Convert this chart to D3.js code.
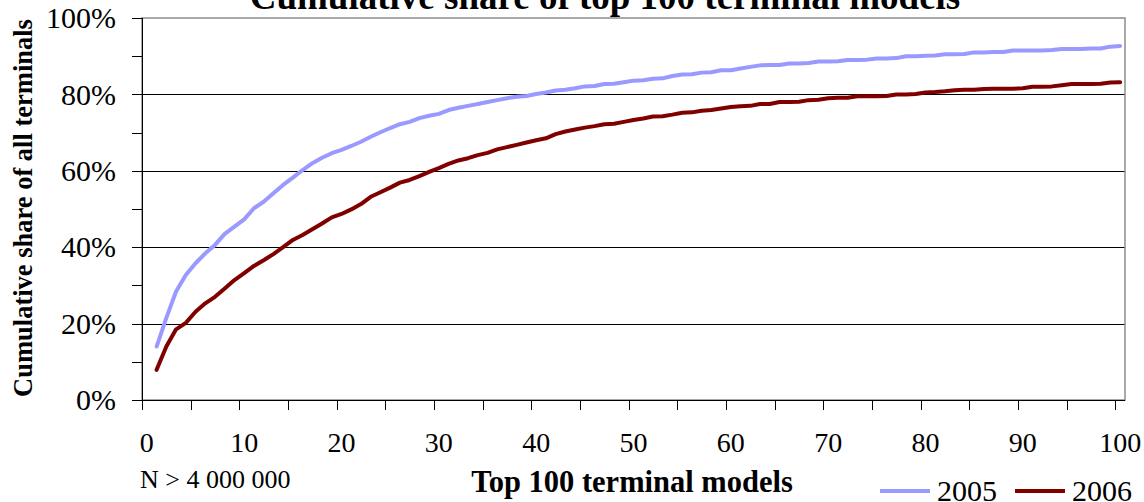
<!DOCTYPE html>
<html>
<head>
<meta charset="utf-8">
<script src="https://cdn.jsdelivr.net/npm/d3@7"></script>
<style>
	body { margin: 0; background: #fff; }
	svg { display: block; }
	svg text { font-family: "Liberation Serif", "Times New Roman", serif; fill: #000; }
</style>
</head>
<body>
<div id="chart"></div>
<script>
// rank of the terminal model, 1..100
var ranks = d3.range(1, 101);

var share2005 = [
	14.0, 21.5, 28.4, 32.7, 35.8, 38.4, 40.6, 43.5, 45.4, 47.3,
	50.2, 51.9, 54.1, 56.3, 58.2, 60.2, 62.0, 63.4, 64.6, 65.5,
	66.5, 67.6, 68.9, 70.1, 71.2, 72.2, 72.8, 73.8, 74.4, 74.9,
	75.9, 76.5, 77.0, 77.5, 78.0, 78.5, 79.0, 79.4, 79.6, 80.1,
	80.5, 81.0, 81.2, 81.6, 82.1, 82.2, 82.7, 82.8, 83.2, 83.6,
	83.7, 84.1, 84.2, 84.8, 85.2, 85.3, 85.7, 85.8, 86.3, 86.3,
	86.8, 87.2, 87.6, 87.7, 87.7, 88.1, 88.1, 88.2, 88.6, 88.6,
	88.7, 89.0, 89.0, 89.1, 89.4, 89.4, 89.5, 90.0, 90.0, 90.1,
	90.2, 90.5, 90.5, 90.6, 91.0, 91.0, 91.1, 91.1, 91.5, 91.5,
	91.5, 91.5, 91.6, 91.9, 91.9, 91.9, 92.0, 92.0, 92.5, 92.7
];

var share2006 = [
	7.9, 14.0, 18.5, 20.2, 23.1, 25.3, 27.0, 29.2, 31.4, 33.2,
	35.1, 36.6, 38.2, 40.0, 41.9, 43.2, 44.7, 46.2, 47.8, 48.7,
	49.9, 51.3, 53.2, 54.4, 55.6, 56.9, 57.6, 58.6, 59.7, 60.7,
	61.8, 62.7, 63.3, 64.1, 64.7, 65.6, 66.2, 66.8, 67.4, 68.0,
	68.5, 69.6, 70.3, 70.8, 71.3, 71.7, 72.2, 72.3, 72.8, 73.3,
	73.7, 74.2, 74.3, 74.7, 75.2, 75.3, 75.7, 75.9, 76.3, 76.7,
	76.9, 77.0, 77.5, 77.5, 78.0, 78.0, 78.1, 78.5, 78.6, 79.0,
	79.1, 79.1, 79.5, 79.5, 79.5, 79.6, 80.0, 80.0, 80.1, 80.5,
	80.6, 80.8, 81.1, 81.2, 81.2, 81.4, 81.5, 81.5, 81.5, 81.6,
	82.0, 82.0, 82.1, 82.4, 82.7, 82.7, 82.7, 82.8, 83.1, 83.2
];

var xLabels = [0, 10, 20, 30, 40, 50, 60, 70, 80, 90, 100];
var yTicks = [0, 10, 20, 30, 40, 50, 60, 70, 80, 90, 100];
var yLabels = [0, 20, 40, 60, 80, 100];
var seriesNames = ["2005", "2006"];
var seriesColors = ["#9999ff", "#800000"];

(function() {
	var W = 1144, H = 502;
	var pLeft = 142, pRight = 1125, pTop = 18, pBottom = 400;

	var svg = d3.select("#chart").append("svg").attr("width", W).attr("height", H);

	// category axis: 101 slots (0..100), each point sits in the middle of its slot
	var x = d3.scaleLinear().domain([0, 101]).range([pLeft, pRight]);
	var y = d3.scaleLinear().domain([0, 100]).range([pBottom, pTop]);

	// gridlines
	svg.append("g").selectAll("line").data(yLabels.filter(function(d) { return d > 0 && d < 100; }))
		.enter().append("line")
		.attr("x1", pLeft).attr("x2", pRight)
		.attr("y1", function(d) { return Math.round(y(d)) + 0.5; })
		.attr("y2", function(d) { return Math.round(y(d)) + 0.5; })
		.attr("stroke", "#000").attr("stroke-width", 1);

	// plot border (top / right gray)
	svg.append("rect").attr("x", pLeft).attr("y", pTop).attr("width", pRight - pLeft).attr("height", pBottom - pTop)
		.attr("fill", "none").attr("stroke", "#8c8c8c").attr("stroke-width", 1.5);

	// y axis
	var yAxis = d3.axisLeft(y).tickValues(yTicks).tickSize(10).tickPadding(16)
		.tickFormat(function(d) { return d % 20 === 0 ? d + "%" : ""; });
	var gy = svg.append("g").attr("transform", "translate(" + pLeft + ",0)").call(yAxis);
	gy.selectAll("text").attr("font-size", 30).attr("font-family", null);
	gy.selectAll("line, path").attr("stroke", "#000").attr("shape-rendering", "crispEdges");
	gy.select(".domain").attr("d", "M0," + pBottom + "V" + pTop);

	// x axis: ticks every 5 slots, labels every 10 in slot centres
	var xAxis = d3.axisBottom(x).tickValues(d3.range(0, 101, 5)).tickSize(10).tickFormat("");
	var gx = svg.append("g").attr("transform", "translate(0," + pBottom + ")").call(xAxis);
	gx.selectAll("line, path").attr("stroke", "#000").attr("shape-rendering", "crispEdges");
	gx.select(".domain").attr("d", "M" + pLeft + ",0H" + pRight);

	svg.append("g").selectAll("text").data(xLabels).enter().append("text")
		.attr("x", function(d) { return x(d + 0.5); })
		.attr("y", 452)
		.attr("text-anchor", "middle")
		.attr("font-size", 28)
		.text(function(d) { return d; });

	// lines
	var line = d3.line()
		.x(function(d, i) { return x(ranks[i] + 0.5); })
		.y(function(d) { return y(d); });

	[share2005, share2006].forEach(function(s, k) {
		svg.append("path").datum(s)
			.attr("d", line)
			.attr("fill", "none")
			.attr("stroke", seriesColors[k])
			.attr("stroke-width", 4)
			.attr("stroke-linejoin", "round")
			.attr("stroke-linecap", "round");
	});

	// titles
	svg.append("text").attr("x", 605).attr("y", 9).attr("text-anchor", "middle")
		.attr("font-size", 37).attr("font-weight", "bold")
		.text("Cumulative share of top 100 terminal models");

	svg.append("text").attr("transform", "translate(32,208) rotate(-90)").attr("text-anchor", "middle")
		.attr("font-size", 26.5).attr("font-weight", "bold")
		.text("Cumulative share of all terminals");

	svg.append("text").attr("x", 632).attr("y", 492).attr("text-anchor", "middle")
		.attr("font-size", 30.5).attr("font-weight", "bold")
		.text("Top 100 terminal models");

	svg.append("text").attr("x", 140).attr("y", 488).attr("font-size", 26)
		.text("N > 4 000 000");

	// legend
	var legendX = [880, 1015];
	var lg = svg.append("g").selectAll("g").data(seriesNames).enter().append("g");
	lg.append("line")
		.attr("x1", function(d, i) { return legendX[i]; })
		.attr("x2", function(d, i) { return legendX[i] + 50; })
		.attr("y1", 491).attr("y2", 491)
		.attr("stroke", function(d, i) { return seriesColors[i]; })
		.attr("stroke-width", 4);
	lg.append("text")
		.attr("x", function(d, i) { return legendX[i] + 57; })
		.attr("y", 501)
		.attr("font-size", 30)
		.text(function(d) { return d; });
})();
</script>
</body>
</html>
